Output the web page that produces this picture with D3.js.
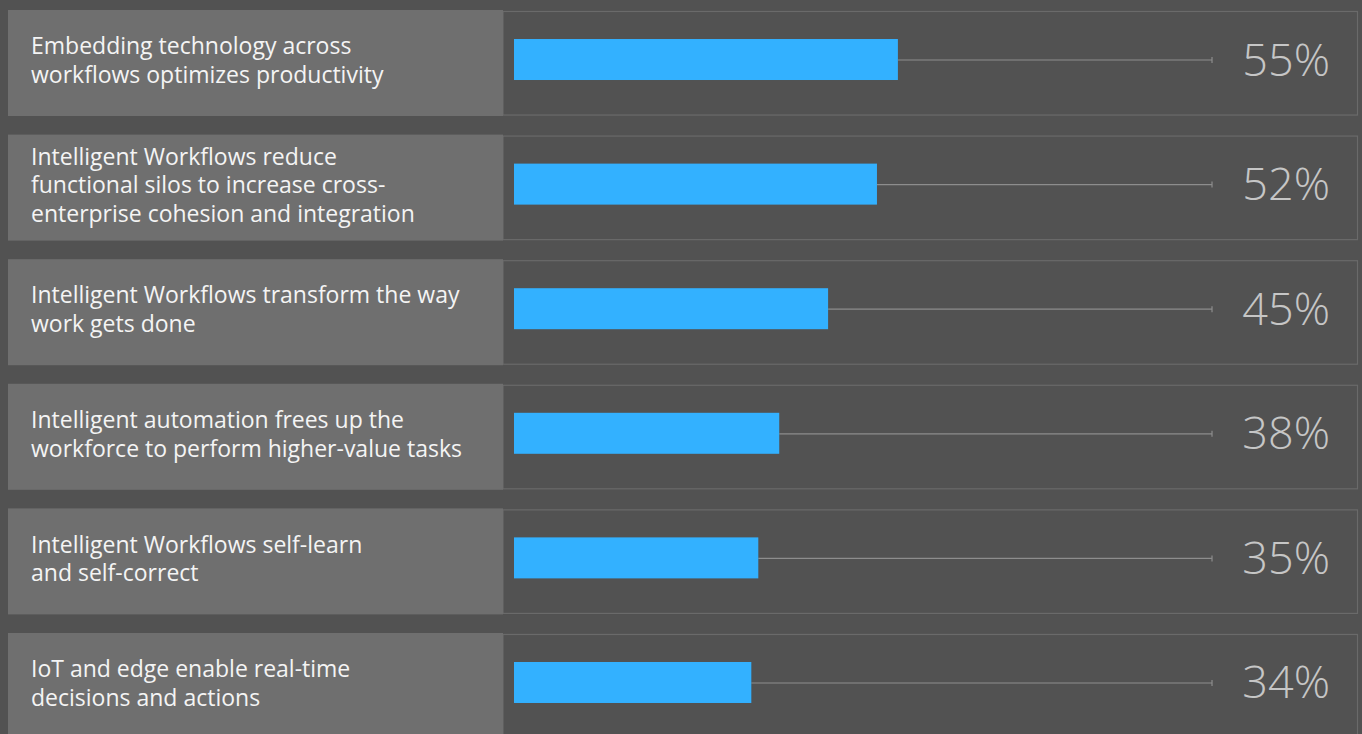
<!DOCTYPE html>
<html>
<head>
<meta charset="utf-8">
<script src="https://cdn.jsdelivr.net/npm/d3@7"></script>
<style>
  html, body { margin:0; padding:0; background:#525252; }
  svg { display:block; }
</style>
</head>
<body>
<svg id="chart" width="1362" height="734"></svg>
<script>
// statements, one row each, split where the reference breaks the line
var labels = [
  ["Embedding technology across", "workflows optimizes productivity"],
  ["Intelligent Workflows reduce", "functional silos to increase cross-", "enterprise cohesion and integration"],
  ["Intelligent Workflows transform the way", "work gets done"],
  ["Intelligent automation frees up the", "workforce to perform higher-value tasks"],
  ["Intelligent Workflows self-learn", "and self-correct"],
  ["IoT and edge enable real-time", "decisions and actions"]
];
var values = [55, 52, 45, 38, 35, 34];
var keys = ["r1", "r2", "r3", "r4", "r5", "r6"];

var svg = d3.select("#chart"),
    width = +svg.attr("width"),
    height = +svg.attr("height");

var data = keys.map(function(k, i) { return { key: k, lines: labels[i], val: values[i] }; });

// rows
var y = d3.scaleBand()
  .domain(keys)
  .range([10, 739])
  .paddingInner(0.149)
  .paddingOuter(0);

// bar length
var x = d3.scaleLinear()
  .domain([0, 100])
  .range([514, 1212]);

var panelLeft = 8, panelSplit = 503, panelRight = 1358;
var lineH = 28.5;

var row = svg.selectAll("g.row")
  .data(data)
  .enter().append("g")
  .attr("class", "row")
  .attr("transform", function(d) { return "translate(0," + y(d.key) + ")"; });

// right panel with thin outline
row.append("rect")
  .attr("x", panelSplit)
  .attr("y", 1.5)
  .attr("width", panelRight - panelSplit - 0.5)
  .attr("height", y.bandwidth() - 2.5)
  .attr("fill", "#525252")
  .attr("stroke", "#6a6a6a")
  .attr("stroke-width", 1.2);

// left label panel
row.append("rect")
  .attr("x", panelLeft)
  .attr("y", 0)
  .attr("width", panelSplit - panelLeft)
  .attr("height", y.bandwidth())
  .attr("fill", "#6f6f6f");

var mid = y.bandwidth() / 2;

// label text
row.append("text")
  .attr("fill", "#f4f4f4")
  .style("font-family", "'Open Sans', 'Noto Sans', sans-serif")
  .style("font-size", "23px")
  .selectAll("tspan")
  .data(function(d) {
    var n = d.lines.length;
    return d.lines.map(function(t, i) { return { t: t, i: i, n: n }; });
  })
  .enter().append("tspan")
  .attr("x", 31)
  .attr("y", function(d) { return mid + 5.5 + (d.i - (d.n - 1) / 2) * lineH; })
  .text(function(d) { return d.t; });

var barH = 41, barY = mid - 24;

// track line to 100%
row.append("line")
  .attr("x1", function(d) { return x(d.val); })
  .attr("x2", x(100))
  .attr("y1", barY + barH / 2 + 0.5)
  .attr("y2", barY + barH / 2 + 0.5)
  .attr("stroke", "#8d8d8d")
  .attr("stroke-width", 1.2);

row.append("line")
  .attr("x1", x(100))
  .attr("x2", x(100))
  .attr("y1", barY + barH / 2 - 2.5)
  .attr("y2", barY + barH / 2 + 3.5)
  .attr("stroke", "#8d8d8d")
  .attr("stroke-width", 1.2);

// bars
row.append("rect")
  .attr("x", x(0))
  .attr("y", barY)
  .attr("width", function(d) { return x(d.val) - x(0); })
  .attr("height", barH)
  .attr("fill", "#33b1ff");

// percent values
row.append("text")
  .attr("x", 1330)
  .attr("y", barY + barH / 2 + 16)
  .attr("text-anchor", "end")
  .attr("fill", "#c6c6c6")
  .style("font-family", "'Open Sans', 'Lato', sans-serif")
  .style("font-weight", 300)
  .style("font-size", "45px")
  .text(function(d) { return d.val + "%"; });
</script>
</body>
</html>
